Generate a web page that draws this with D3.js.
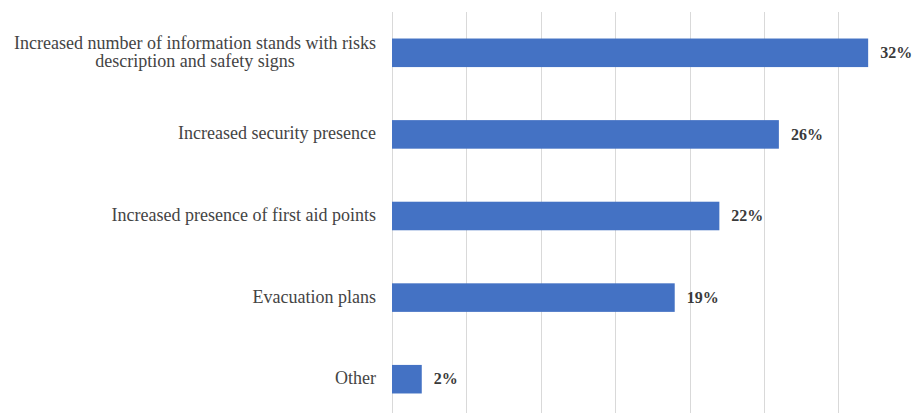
<!DOCTYPE html>
<html>
<head>
<meta charset="utf-8">
<script src="https://cdn.jsdelivr.net/npm/d3@7"></script>
<style>
  html, body { margin: 0; padding: 0; background: #fff; }
  svg { display: block; }
</style>
</head>
<body>
<div id="chart"></div>
<script>
// Survey responses: suggested safety measures (share of respondents, %)
const categories = [
  ["Increased number of information stands with risks", "description and safety signs"],
  ["Increased security presence"],
  ["Increased presence of first aid points"],
  ["Evacuation plans"],
  ["Other"]
];
const values = [32, 26, 22, 19, 2];
const gridTicks = [0, 5, 10, 15, 20, 25, 30, 35];

const width = 912, height = 413;
const margin = { top: 12, right: 0, bottom: -7, left: 392 };

const svg = d3.select("#chart").append("svg")
  .attr("width", width)
  .attr("height", height);

const x = d3.scaleLinear()
  .domain([0, 35])
  .range([margin.left, margin.left + 35 * 14.88]);

const y = d3.scaleBand()
  .domain(d3.range(categories.length))
  .range([margin.top, height - margin.bottom])
  .paddingInner(0.65)
  .paddingOuter(0.325);

// vertical gridlines
svg.append("g")
  .selectAll("line")
  .data(gridTicks)
  .join("line")
  .attr("x1", d => Math.round(x(d)) + 0.5)
  .attr("x2", d => Math.round(x(d)) + 0.5)
  .attr("y1", margin.top)
  .attr("y2", height)
  .attr("stroke", "#d9d9d9")
  .attr("stroke-width", 1);

// bars
svg.append("g")
  .selectAll("rect")
  .data(values)
  .join("rect")
  .attr("x", x(0))
  .attr("y", (d, i) => y(i))
  .attr("width", d => x(d) - x(0))
  .attr("height", y.bandwidth())
  .attr("fill", "#4472C4");

// value labels
svg.append("g")
  .selectAll("text")
  .data(values)
  .join("text")
  .attr("x", d => x(d) + 12)
  .attr("y", (d, i) => y(i) + y.bandwidth() / 2)
  .attr("dy", "0.32em")
  .attr("font-family", "'Liberation Serif', 'Times New Roman', serif")
  .attr("font-size", 16)
  .attr("font-weight", "bold")
  .attr("fill", "#3a3a3a")
  .text(d => d + "%");

// category labels (multi-line labels centered as a block, right-aligned to axis)
const labelRight = 376;
const lineHeight = 18.5;
const catG = svg.append("g")
  .attr("font-family", "'Liberation Serif', 'Times New Roman', serif")
  .attr("font-size", 18)
  .attr("fill", "#444");

categories.forEach((lines, i) => {
  const cy = y(i) + y.bandwidth() / 2;
  const t = catG.append("text")
    .attr("y", cy);
  const n = lines.length;
  lines.forEach((ln, j) => {
    t.append("tspan")
      .attr("x", labelRight)
      .attr("y", cy + (j - (n - 1) / 2) * lineHeight)
      .attr("dy", "0.28em")
      .attr("text-anchor", "end")
      .text(ln);
  });
  if (n > 1) {
    // center shorter lines under the widest one
    const spans = t.selectAll("tspan").nodes();
    const widths = spans.map(s => s.getComputedTextLength());
    const maxW = Math.max(...widths);
    spans.forEach((s, j) => {
      d3.select(s).attr("x", labelRight - (maxW - widths[j]) / 2);
    });
  }
});
</script>
</body>
</html>
